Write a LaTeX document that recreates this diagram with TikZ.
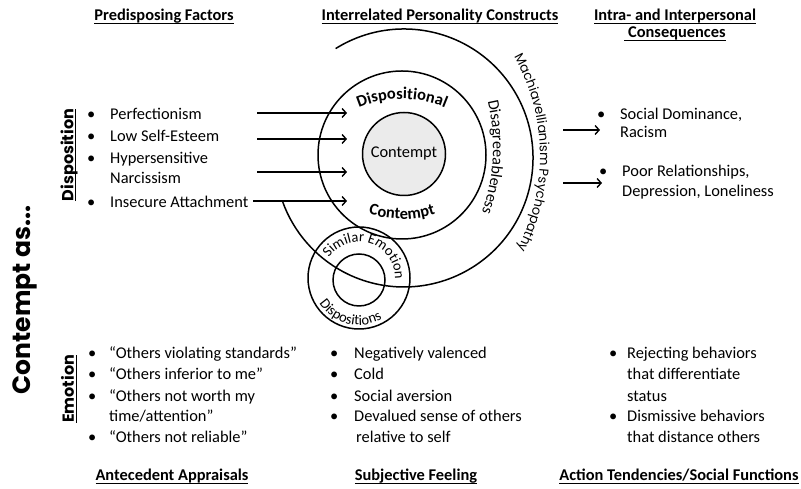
\documentclass[tikz,border=0pt]{standalone}
\usepackage{fontspec}
\setmainfont{Carlito}
\newfontfamily\geofont{Poppins}
\usetikzlibrary{arrows.meta, decorations.text}

% thick underline a few points below the baseline
\newcommand{\ulbox}[1]{\setbox0\hbox{#1}\rlap{\raisebox{-3pt}{\rule{\wd0}{1.2pt}}}\box0}
% bullet in a box of given width, then the item text
\newcommand{\bitem}[2]{\makebox[#1][l]{\textbullet}#2}

\tikzset{
	body/.style={font=\fontsize{16.4}{20}\selectfont, inner sep=0pt, anchor=base west},
	head/.style={font=\fontsize{16.4}{20}\selectfont\bfseries, inner sep=0pt, anchor=base},
	side/.style={font=\geofont\bfseries\fontsize{16}{18}\selectfont, rotate=90, inner sep=0pt},
	ring/.style={line width=1.5pt},
	feed/.style={line width=1.4pt, -{Straight Barb[length=4pt,width=9pt]}}
}

\begin{document}
\begin{tikzpicture}[x=1pt, y=1pt]
	\useasboundingbox (0,0) rectangle (801,489);

	% column headings
	\node[head] (hpre) at (164,468) {\ulbox{Predisposing Factors}};
	\node[head] (hcon) at (440,468) {\ulbox{Interrelated Personality Constructs}};
	\node[head] (hout) at (675,468) {\ulbox{Intra- and Interpersonal}};
	\node[head] (hout2) at (675,451) {\ulbox{\ Consequences}};
	\node[head] (happ) at (172,8) {\ulbox{Antecedent Appraisals}};
	\node[head] (hfeel) at (416,8) {\ulbox{Subjective Feeling}};
	\node[head] (hact) at (679,8) {\ulbox{Action Tendencies/Social Functions}};

	% row labels
	\node[rotate=90, inner sep=0pt, font=\geofont\bfseries\fontsize{25}{28}\selectfont] (title) at (25,189) {Contempt as...};
	\node[side] (rdisp) at (69,334) {\ulbox{Disposition}};
	\node[side] (remo) at (69,100) {\ulbox{Emotion}};

	% predisposing factors
	\node[body] (pf1) at (87,369) {\bitem{23pt}{Perfectionism}};
	\node[body] (pf2) at (87,347) {\bitem{23pt}{Low Self-Esteem}};
	\node[body] (pf3) at (87,325) {\bitem{23pt}{Hypersensitive}};
	\node[body] (pf3b) at (110,305) {Narcissism};
	\node[body] (pf4) at (87,281) {\bitem{23pt}{Insecure Attachment}};

	% consequences
	\node[body] (cq1) at (597,369) {\bitem{23pt}{Social Dominance,}};
	\node[body] (cq1b) at (620,351) {Racism};
	\node[body] (cq2) at (599,312) {\bitem{23pt}{Poor Relationships,}};
	\node[body] (cq2b) at (622,292) {Depression, Loneliness};

	% circles
	\coordinate (mid) at (402,334);
	\coordinate (big) at (404,331);
	\coordinate (sim) at (359,211);
	\draw[ring] ([shift={(122:129)}]big) arc[start angle=122, end angle=-160, radius=129];
	\draw[ring] (mid) circle[radius=84];
	\node[circle, draw, ring, fill=black!8, minimum size=83pt, inner sep=0pt,
		font=\fontsize{16.4}{20}\selectfont] (core) at (404,335) {Contempt};
	\draw[ring] (sim) circle[radius=51];
	\draw[ring] (359,209) circle[radius=26];

	% curved labels
	\path[decorate, decoration={text along path, text align=center,
		text={|\fontsize{16.4}{18}\selectfont\bfseries|Dispositional}}]
		([shift={(130:111)}]402,279) arc[start angle=130, end angle=50, radius=111];
	\path[decorate, decoration={text along path, text align=center,
		text={|\fontsize{16.4}{18}\selectfont\bfseries|Contempt}}]
		([shift={(240:109)}]402,379) arc[start angle=240, end angle=300, radius=109];
	\path[decorate, decoration={text along path, text align=center,
		text={|\fontsize{16}{18}\selectfont|Disagreeableness}}]
		([shift={(22:200)}]293,342) arc[start angle=22, end angle=-28, radius=200];
	\path[decorate, decoration={text along path, text align=center,
		text={|\geofont\fontsize{13}{16}\selectfont|Machiavellianism Psychopathy}}]
		([shift={(36:204)}]336,333) arc[start angle=36, end angle=-34, radius=204];
	\path[decorate, decoration={text along path, text align=center,
		text={|\fontsize{14.5}{16}\selectfont|Similar Emotion}}]
		([shift={(160:36)}]sim) arc[start angle=160, end angle=-16, radius=36];
	\path[decorate, decoration={text along path, text align=center,
		text={|\fontsize{14.5}{16}\selectfont|Dispositions}}]
		([shift={(196:47)}]sim) arc[start angle=196, end angle=316, radius=47];

	% arrows into and out of the constructs
	\foreach \i/\x/\y in {1/257/376, 2/257/350, 3/257/317, 4/253/288} {
		\coordinate (pfout\i) at (\x,\y);
		\coordinate (pfin\i) at (347,\y);
		\draw[feed] (pfout\i) -- (pfin\i);
	}
	\coordinate (cqout1) at (563,359);
	\coordinate (cqin1) at (600,359);
	\coordinate (cqout2) at (563,306);
	\coordinate (cqin2) at (602,306);
	\draw[feed] (cqout1) -- (cqin1);
	\draw[feed] (cqout2) -- (cqin2);

	% emotion row
	\node[body] (ap1) at (88,130) {\bitem{21pt}{``Others violating standards''}};
	\node[body] (ap2) at (88,109) {\bitem{21pt}{``Others inferior to me''}};
	\node[body] (ap3) at (88,87) {\bitem{21pt}{``Others not worth my}};
	\node[body] (ap3b) at (109,67) {time/attention''};
	\node[body] (ap4) at (88,46) {\bitem{21pt}{``Others not reliable''}};

	\node[body] (sf1) at (330,130) {\bitem{24pt}{Negatively valenced}};
	\node[body] (sf2) at (330,109) {\bitem{24pt}{Cold}};
	\node[body] (sf3) at (330,87) {\bitem{24pt}{Social aversion}};
	\node[body] (sf4) at (330,67) {\bitem{24pt}{Devalued sense of others}};
	\node[body] (sf4b) at (356,46) {relative to self};

	\node[body] (at1) at (609,130) {\bitem{18pt}{Rejecting behaviors}};
	\node[body] (at1b) at (627,109) {that differentiate};
	\node[body] (at1c) at (627,87) {status};
	\node[body] (at2) at (609,67) {\bitem{18pt}{Dismissive behaviors}};
	\node[body] (at2b) at (627,46) {that distance others};
\end{tikzpicture}
\end{document}
